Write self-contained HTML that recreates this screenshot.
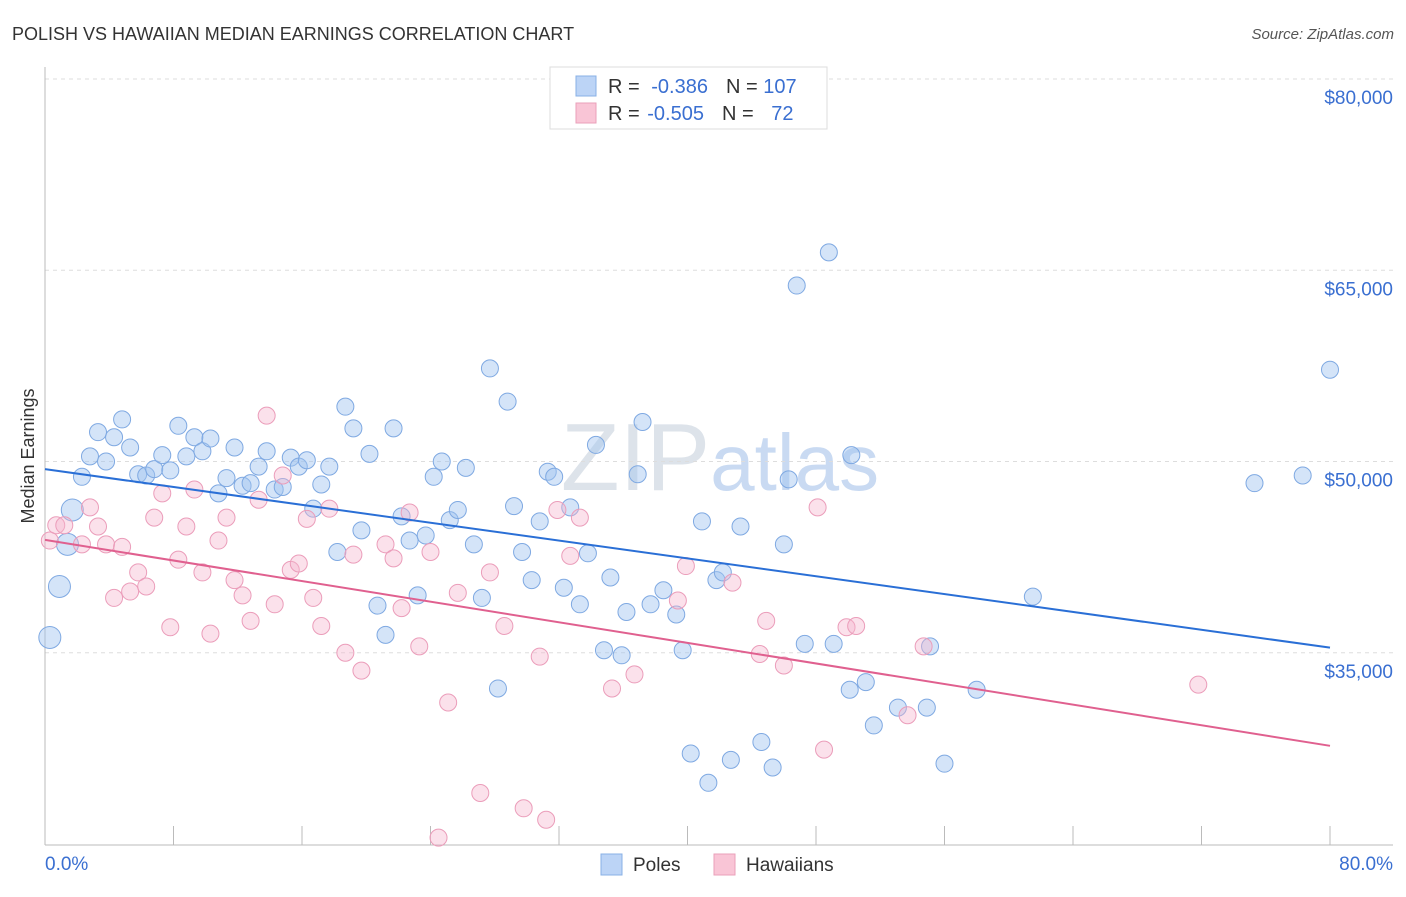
<!DOCTYPE html>
<html><head><meta charset="utf-8"><style>
body{margin:0;background:#fff;font-family:"Liberation Sans",sans-serif}
svg text{font-family:"Liberation Sans",sans-serif}
</style></head><body>
<svg id="chart" width="1406" height="892" xmlns="http://www.w3.org/2000/svg">
<text x="12" y="40" font-size="18" fill="#333">POLISH VS HAWAIIAN MEDIAN EARNINGS CORRELATION CHART</text>
<text x="1394" y="39" font-size="15" fill="#555" text-anchor="end" font-style="italic">Source: ZipAtlas.com</text>
<text x="720" y="490" font-size="96" fill="#dde3ea" text-anchor="middle" font-family="Liberation Serif">ZIP<tspan fill="#c9daf2" font-family="Liberation Sans" font-size="80">atlas</tspan></text>
<g id="grid"></g>
<g id="axes"></g>
<g id="points"></g>
<g id="trends"></g>
<text transform="translate(34,456) rotate(-90)" font-size="18" fill="#333" text-anchor="middle">Median Earnings</text>
<g>
<rect x="550" y="67" width="277" height="62" fill="#fff" stroke="#ddd"/>
<rect x="576" y="76" width="20" height="20" fill="#bcd4f6" stroke="#88b0e6"/>
<rect x="576" y="103" width="20" height="20" fill="#f9c5d6" stroke="#eaa0ba"/>
<text x="608" y="93" font-size="20" fill="#333">R = <tspan fill="#3a6fd1" dx="6">-0.386</tspan><tspan dx="18">N = </tspan><tspan fill="#3a6fd1">107</tspan></text>
<text x="608" y="120" font-size="20" fill="#333">R = <tspan fill="#3a6fd1" dx="2">-0.505</tspan><tspan dx="18">N = </tspan><tspan fill="#3a6fd1" dx="12">72</tspan></text>
</g>
<g>
<rect x="601" y="854" width="21" height="21" fill="#bcd4f6" stroke="#88b0e6"/>
<text x="633" y="871" font-size="19" fill="#333">Poles</text>
<rect x="714" y="854" width="21" height="21" fill="#f9c5d6" stroke="#eaa0ba"/>
<text x="746" y="871" font-size="19" fill="#333">Hawaiians</text>
</g>
</svg>
<script>
const yTicks=[35000,50000,65000,80000];
const yTickLabels=["$35,000","$50,000","$65,000","$80,000"];
const xTickLabels=["0.0%","80.0%"];
const polesX=[0.3,0.9,1.4,1.7,2.3,2.8,3.3,3.8,4.3,4.8,5.3,5.8,6.3,6.8,7.3,7.8,8.3,8.8,9.3,9.8,10.3,10.8,11.3,11.8,12.3,12.8,13.3,13.8,14.3,14.8,15.3,15.8,16.3,16.7,17.2,17.7,18.2,18.7,19.2,19.7,20.2,20.7,21.2,21.7,22.2,22.7,23.2,23.7,24.2,24.7,25.2,25.7,26.2,26.7,27.2,27.7,28.2,28.8,29.2,29.7,30.3,30.8,31.3,31.7,32.3,32.7,33.3,33.8,34.3,34.8,35.2,35.9,36.2,37.2,36.9,37.7,38.5,39.3,39.7,40.2,40.9,41.3,41.8,42.2,42.7,43.3,44.6,45.3,46.0,46.3,46.8,47.3,48.8,49.1,50.1,50.2,51.1,51.6,53.1,54.9,55.1,56.0,58.0,61.5,75.3,78.3,80.0];
const polesY=[36.2,40.2,43.5,46.2,48.8,50.4,52.3,50.0,51.9,53.3,51.1,49.0,48.9,49.4,50.5,49.3,52.8,50.4,51.9,50.8,51.8,47.5,48.7,51.1,48.1,48.3,49.6,50.8,47.8,48.0,50.3,49.6,50.1,46.3,48.2,49.6,42.9,54.3,52.6,44.6,50.6,38.7,36.4,52.6,45.7,43.8,39.5,44.2,48.8,50.0,45.4,46.2,49.5,43.5,39.3,57.3,32.2,54.7,46.5,42.9,40.7,45.3,49.2,48.8,40.1,46.4,38.8,42.8,51.3,35.2,40.9,34.8,38.2,53.1,49.0,38.8,39.9,38.0,35.2,27.1,45.3,24.8,40.7,41.3,26.6,44.9,28.0,26.0,43.5,48.6,63.8,35.7,66.4,35.7,32.1,50.5,32.7,29.3,30.7,30.7,35.5,26.3,32.1,39.4,48.3,48.9,57.2];
const hawX=[0.3,0.7,1.2,2.3,2.8,3.3,3.8,4.3,4.8,5.3,5.8,6.3,6.8,7.3,7.8,8.3,8.8,9.3,9.8,10.3,10.8,11.3,11.8,12.3,12.8,13.3,13.8,14.3,14.8,15.3,15.8,16.3,16.7,17.2,17.7,18.7,19.2,19.7,21.2,21.7,22.2,22.7,23.3,24.0,24.5,25.1,25.7,27.1,27.7,28.6,29.8,30.8,31.2,31.9,32.7,33.3,35.3,36.7,39.4,39.9,42.8,44.5,44.9,46.0,48.1,48.5,49.9,50.5,53.7,54.7,71.8];
const hawY=[43.8,45.0,45.0,43.5,46.4,44.9,43.5,39.3,43.3,39.8,41.3,40.2,45.6,47.5,37.0,42.3,44.9,47.8,41.3,36.5,43.8,45.6,40.7,39.5,37.5,47.0,53.6,38.8,48.9,41.5,42.0,45.5,39.3,37.1,46.3,35.0,42.7,33.6,43.5,42.4,38.5,46.0,35.5,42.9,20.5,31.1,39.7,24.0,41.3,37.1,22.8,34.7,21.9,46.2,42.6,45.6,32.2,33.3,39.1,41.8,40.5,34.9,37.5,34.0,46.4,27.4,37.0,37.1,30.1,35.5,32.5];
const polesTrend=[49400,35400];
const hawTrend=[43850,27700];
const bigPoles=[0,1,2,3];

const NS="http://www.w3.org/2000/svg";
const xS=v=>45+v/80*1285;
const yS=v=>79+(80000-v)/1000*12.75;
function mk(tag,attrs,parent){const e=document.createElementNS(NS,tag);for(const k in attrs)e.setAttribute(k,attrs[k]);parent.appendChild(e);return e;}
const grid=document.getElementById('grid'),axes=document.getElementById('axes'),pts=document.getElementById('points'),tr=document.getElementById('trends');
yTicks.forEach((t,i)=>{
 const l=mk('line',{x1:45,x2:1393,y1:yS(t),y2:yS(t),stroke:'#ddd','stroke-dasharray':'4,4'},grid);
 
 
 const tx=mk('text',{x:1393,y:yS(t)+25,'font-size':19,fill:'#3a6fd1','text-anchor':'end'},axes);
 tx.textContent=yTickLabels[i];
 
 
});
const yax=mk('line',{x1:45,x2:45,y1:67,y2:845,stroke:'#bbb'},axes);


const xax=mk('line',{x1:45,x2:1393,y1:845,y2:845,stroke:'#bbb'},axes);


for(let i=0;i<=10;i++){
 const t=mk('line',{x1:xS(i*8),x2:xS(i*8),y1:826,y2:845,stroke:'#bbb'},axes);
 
 
}
[[0,'start'],[80,'end']].forEach((p,i)=>{
 const t=mk('text',{x:i?1393:45,y:870,'font-size':19,fill:'#3a6fd1','text-anchor':p[1]},axes);
 t.textContent=xTickLabels[i];
 
 
});
polesX.forEach((x,i)=>{
 const c=mk('circle',{cx:xS(x),cy:yS(polesY[i]*1000),r:bigPoles.includes(i)?11:8.5,fill:'rgba(160,195,240,0.45)',stroke:'#7fa9e2','stroke-width':1},pts);
 
 
});
hawX.forEach((x,i)=>{
 const c=mk('circle',{cx:xS(x),cy:yS(hawY[i]*1000),r:8.5,fill:'rgba(246,180,205,0.4)',stroke:'#eb9dba','stroke-width':1},pts);
 
 
});
const l1=mk('line',{x1:xS(0),x2:xS(80),y1:yS(polesTrend[0]),y2:yS(polesTrend[1]),stroke:'#2a6fd6','stroke-width':2},tr);


const l2=mk('line',{x1:xS(0),x2:xS(80),y1:yS(hawTrend[0]),y2:yS(hawTrend[1]),stroke:'#e0608f','stroke-width':2},tr);


</script>
</body></html>
